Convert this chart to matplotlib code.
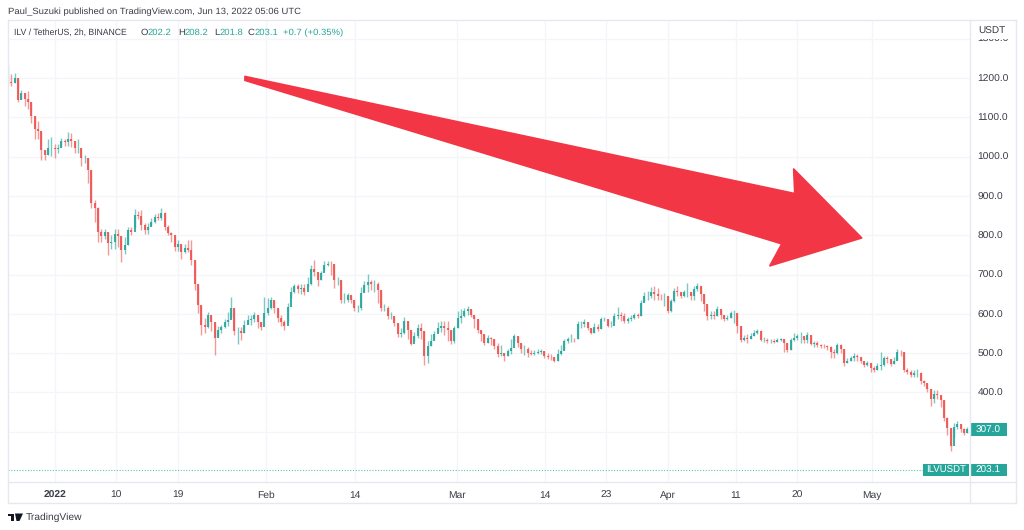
import matplotlib
matplotlib.use("Agg")
import matplotlib.pyplot as plt
from matplotlib.patches import Polygon, Rectangle
import numpy as np

GREEN = "#26a69a"
RED = "#ef5350"
GRID = "#f3f5fa"
FRAME = "#e6e8f0"
TEXT = "#3a3d47"

# estimated off the chart, about one candle per half day
closes = [
    1189, 1187, 1199, 1144, 1163, 1146, 1138, 1103, 1069, 1065, 1018, 1005, 1022, 1022, 1020, 1022,
    1039, 1037, 1044, 1039, 1022, 1022, 997, 997, 967, 881, 868, 808, 799, 808, 780, 783,
    804, 799, 762, 774, 813, 809, 851, 849, 826, 813, 821, 834, 847, 845, 857, 821,
    806, 800, 770, 777, 757, 768, 762, 736,
    677, 622, 572, 567, 597, 580, 538, 559, 566, 580, 584, 614, 555, 555, 551, 572,
    583, 586, 597, 580, 566, 601, 614, 635, 614, 589, 580, 569, 618, 656, 670, 662,
    665, 656, 677, 715, 707, 686, 703, 724, 728, 726, 686, 686, 635, 635, 648, 635,
    614, 614, 652, 673, 681, 677, 677, 660,
    615, 615, 594, 594, 577, 548, 552, 581, 560, 522, 543, 565, 556, 493, 518, 531,
    548, 565, 569, 565, 560, 531, 565, 590, 594, 607, 611, 598, 586, 560, 548, 527,
    539, 535, 518, 497, 501, 493, 505, 514, 543, 527, 510, 510, 501, 499, 501, 503,
    505, 493, 491, 489, 480, 497, 505, 531, 537,
    537, 535, 573, 573, 579, 565, 552, 567, 562, 586, 587, 570, 570, 594, 596, 594,
    581, 586, 590, 598, 594, 628, 646, 646, 655, 651, 646, 645, 646, 607, 632, 657,
    655, 646, 655, 655, 645, 662, 672, 651, 624, 594, 598, 594, 613, 598, 587, 590,
    603, 603, 569, 533, 539, 535, 543, 552, 556,
    534, 534, 532, 532, 529, 534, 536, 526, 509, 534, 538, 543, 543, 534, 547, 524,
    527, 521, 519, 517, 515, 504, 500, 521, 510, 474, 481, 487, 493, 491, 479, 470,
    474, 462, 457, 466, 470, 487, 485, 473, 479, 504, 502, 457, 453, 445, 449, 449,
    428, 423, 408, 383, 396, 394, 381, 334, 309, 263, 313, 320, 306, 296, 306,
]
highs = [
    1232, 1210, 1213, 1199, 1170, 1163, 1168, 1138, 1103, 1091, 1065, 1018, 1044, 1050, 1031, 1031,
    1048, 1045, 1062, 1059, 1039, 1045, 1022, 1005, 997, 967, 890, 873, 817, 817, 808, 800,
    817, 817, 799, 796, 821, 821, 866, 862, 864, 830, 830, 843, 855, 857, 868, 860,
    825, 808, 800, 787, 778, 778, 789, 787,
    736, 677, 622, 589, 605, 597, 580, 569, 572, 586, 605, 643, 614, 566, 566, 584,
    597, 597, 605, 597, 580, 643, 639, 642, 635, 614, 597, 584, 627, 669, 677, 677,
    677, 677, 694, 724, 736, 707, 709, 734, 735, 735, 726, 694, 686, 652, 654, 648,
    635, 622, 667, 684, 701, 686, 686, 681,
    660, 624, 619, 604, 594, 577, 565, 592, 581, 560, 554, 573, 577, 556, 531, 548,
    556, 579, 581, 581, 581, 560, 569, 607, 611, 615, 619, 611, 598, 586, 560, 548,
    545, 542, 535, 527, 520, 501, 511, 535, 548, 543, 527, 520, 516, 508, 508, 510,
    510, 505, 501, 497, 489, 510, 520, 537, 542,
    548, 539, 581, 581, 586, 579, 565, 577, 573, 592, 592, 587, 581, 601, 618, 604,
    601, 592, 596, 603, 601, 636, 655, 657, 668, 670, 666, 651, 653, 646, 638, 666,
    670, 655, 660, 678, 655, 670, 678, 672, 651, 624, 607, 607, 621, 613, 598, 598,
    607, 609, 603, 569, 545, 548, 550, 559, 562,
    560, 541, 538, 537, 536, 538, 539, 536, 526, 538, 551, 549, 553, 543, 553, 547,
    532, 530, 524, 522, 520, 517, 510, 527, 524, 510, 487, 493, 500, 498, 491, 479,
    481, 474, 466, 474, 502, 493, 493, 485, 490, 510, 509, 502, 462, 456, 457, 459,
    453, 432, 423, 408, 405, 405, 394, 381, 338, 309, 323, 326, 320, 309, 313,
]
lows = [
    1182, 1180, 1187, 1138, 1146, 1129, 1120, 1086, 1044, 1045, 992, 992, 1005, 1001, 996, 1009,
    1025, 1028, 1028, 1025, 1008, 1008, 975, 984, 932, 868, 834, 783, 783, 791, 749, 766,
    766, 770, 731, 753, 774, 800, 821, 840, 813, 804, 804, 823, 830, 838, 838, 813,
    800, 783, 761, 761, 740, 755, 757, 723,
    660, 601, 546, 551, 563, 555, 496, 540, 551, 563, 569, 589, 546, 524, 534, 552,
    574, 572, 580, 563, 559, 589, 597, 611, 603, 580, 569, 559, 580, 639, 652, 652,
    650, 648, 667, 673, 696, 670, 686, 711, 721, 698, 665, 673, 627, 627, 631, 627,
    608, 605, 610, 656, 656, 660, 656, 628,
    607, 607, 587, 587, 570, 542, 542, 548, 535, 520, 531, 539, 535, 469, 474, 518,
    535, 554, 554, 545, 531, 522, 525, 565, 577, 592, 598, 592, 565, 550, 531, 520,
    527, 520, 511, 491, 493, 480, 493, 497, 531, 516, 500, 494, 491, 494, 496, 497,
    497, 488, 486, 483, 478, 480, 494, 508, 525,
    528, 528, 537, 565, 567, 559, 548, 550, 556, 562, 581, 567, 567, 581, 586, 581,
    576, 577, 581, 587, 590, 594, 632, 636, 641, 636, 635, 636, 619, 601, 604, 630,
    645, 641, 643, 643, 635, 636, 657, 632, 607, 584, 586, 586, 594, 586, 581, 584,
    590, 576, 552, 528, 531, 525, 535, 543, 548,
    530, 529, 527, 527, 526, 529, 531, 504, 503, 509, 530, 534, 527, 527, 526, 520,
    515, 515, 514, 513, 509, 487, 487, 498, 500, 468, 474, 479, 481, 481, 474, 464,
    466, 451, 452, 457, 456, 466, 476, 468, 473, 483, 493, 453, 447, 439, 440, 440,
    422, 417, 402, 366, 374, 383, 362, 328, 292, 252, 287, 306, 300, 292, 296,
]

first_candle_day = -6.9
last_candle_day = 134.0

# days since Jan 1 2022
date_ticks = [0, 9, 18, 31, 44, 59, 72, 81, 90, 100, 109, 120]
date_labels = ["2022", "10", "19", "Feb", "14", "Mar", "14", "23", "Apr", "11", "20", "May"]
price_ticks = [300, 400, 500, 600, 700, 800, 900, 1000, 1100, 1200, 1300]
# 300 sits under the 307.0 tag
price_labels = ["", "400.0", "500.0", "600.0", "700.0", "800.0", "900.0", "1000.0", "1100.0", "1200.0", "1300.0"]

last_visible_price = 307.0
current_close = 203.1

arrow_days = [27.9, 108.66, 108.5, 118.5, 105.0, 106.75, 27.9]
arrow_prices = [1204, 906, 968.5, 793, 722, 778, 1194]


def px_rect(x0, y0, x1, y1):
    # figure fractions from pixel box, y from the top
    return [x0 / 1024, 1 - y1 / 530, (x1 - x0) / 1024, (y1 - y0) / 530]


def draw_candles(ax):
    opens = np.array([closes[0]] + closes[:-1])
    c = np.array(closes)
    days = np.linspace(first_candle_day, last_candle_day, len(closes))
    colors = [GREEN if up else RED for up in c >= opens]
    ax.vlines(days, lows, highs, colors=colors, lw=1.0, alpha=0.6, zorder=2)
    ax.vlines(days, opens, c, colors=colors, lw=1.5, alpha=0.9, zorder=3)


def draw_overlay(fig):
    ov = fig.add_axes([0, 0, 1, 1], zorder=5)
    ov.set_xlim(0, 1024)
    ov.set_ylim(530, 0)
    ov.axis("off")
    ov.patch.set_alpha(0)

    # header box over the price scale, it cuts the 1300 label in half
    ov.add_patch(Rectangle((972, 20.5), 43, 18, fc="white", ec="none"))
    for x0, y0, x1, y1 in [(8, 20, 1016, 20), (8, 503, 1016, 503), (8, 482, 1016, 482),
                           (8, 20, 8, 503), (970, 20, 970, 503), (1016, 20, 1016, 503)]:
        ov.plot([x0, x1], [y0, y1], color=FRAME, lw=1)

    ov.text(8, 12, "Paul_Suzuki published on TradingView.com, Jun 13, 2022 05:06 UTC",
            color=TEXT, fontsize=6.8, va="center")
    ov.text(978, 31, "USDT", color=TEXT, fontsize=7.2, va="center")

    ov.text(14, 32.5, "ILV / TetherUS, 2h, BINANCE", color=TEXT, fontsize=6.2, va="center")
    pieces = [(141, "O", TEXT), (148, "202.2", GREEN),
              (178, "H", TEXT), (185, "208.2", GREEN), (214, "L", TEXT), (220, "201.8", GREEN),
              (248, "C", TEXT), (255, "203.1", GREEN), (283, "+0.7 (+0.35%)", GREEN)]
    for x, s, col in pieces:
        ov.text(x, 32.5, s, color=col, fontsize=6.8, va="center")

    # price tags
    ov.add_patch(Rectangle((970, 423), 37, 12.5, fc=GREEN, ec="none"))
    ov.text(988.5, 430, "%.1f" % last_visible_price, color="white", fontsize=7.2, ha="center", va="center")
    ov.add_patch(Rectangle((923, 463.5), 46, 12.5, fc=GREEN, ec="none"))
    ov.text(946, 470.5, "ILVUSDT", color="white", fontsize=6.9, ha="center", va="center")
    ov.add_patch(Rectangle((970, 463.5), 37, 12.5, fc=GREEN, ec="none"))
    ov.text(988.5, 470.5, "%.1f" % current_close, color="white", fontsize=7.2, ha="center", va="center")

    # logo, T and V made of plain shapes
    ov.add_patch(Rectangle((8, 513.5), 6, 2.5, fc="#131722", ec="none"))
    ov.add_patch(Rectangle((11, 513.5), 3, 7.5, fc="#131722", ec="none"))
    ov.add_patch(Polygon([(15, 513.5), (23, 513.5), (19.5, 521), (16.5, 521)], fc="#131722", ec="none"))
    ov.text(26, 517.5, "TradingView", color=TEXT, fontsize=7.4, va="center")


def main():
    plt.rcParams["font.family"] = ["Liberation Sans", "DejaVu Sans"]
    plt.rcParams["text.hinting"] = "no_hinting"
    fig = plt.figure(figsize=(10.24, 5.3), dpi=100)
    ax = fig.add_axes(px_rect(8, 20, 970, 483))

    draw_candles(ax)

    ax.add_patch(Polygon(list(zip(arrow_days, arrow_prices)), closed=True, fc="#f23645", ec="#f23645",
                         lw=1.2, joinstyle="round", zorder=4))

    ax.axhline(current_close, color=GREEN, lw=0.8, ls=(0, (1, 1.5)), alpha=0.7, zorder=1,
               xmax=(923 - 8) / 962)

    ax.set_xlim(-6.9, 134.4)
    ax.set_ylim(169.5, 1347.6)
    ax.set_xticks(date_ticks, date_labels)
    ax.set_yticks(price_ticks, price_labels)
    ax.yaxis.tick_right()
    ax.grid(True, color=GRID, lw=0.9, zorder=0)
    ax.set_axisbelow(True)
    ax.tick_params(axis="both", length=0, colors=TEXT, labelsize=7.4)
    ax.tick_params(axis="x", pad=5.5)
    ax.tick_params(axis="y", pad=5.5)
    for lab in ax.get_yticklabels():
        lab.set_verticalalignment("center_baseline")
    ax.get_xticklabels()[0].set_fontweight("bold")
    for s in ax.spines.values():
        s.set_visible(False)

    draw_overlay(fig)
    fig.savefig("out.png", dpi=100, facecolor="white")


if __name__ == "__main__":
    main()
